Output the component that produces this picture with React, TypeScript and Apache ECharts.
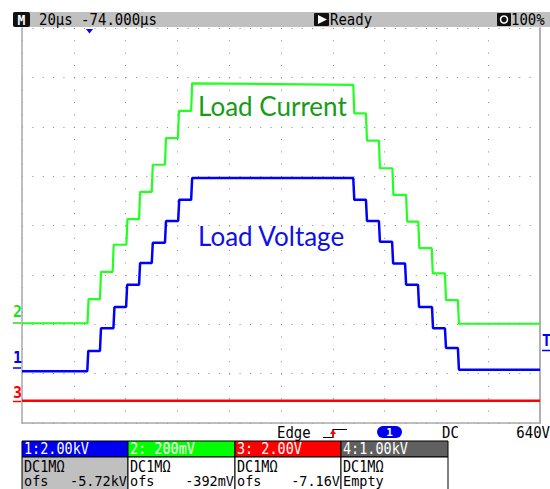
import React, { useEffect, useRef } from "react";
import * as echarts from "echarts";

// Time axis in µs (20 µs/div, 10 divisions); vertical axis in divisions (8 divisions)
const X_MIN = 0;
const X_MAX = 200;
const X_STEP = 20;
const Y_MIN = 0;
const Y_MAX = 8;
const Y_STEP = 1;
const EDGE_US = 0.4;

// Channel 2 (green) - Load Current
const currentRiseUs = [25.3, 30.1, 35.0, 40.3, 45.2, 50.1, 55.2, 60.2, 65.3];
const currentRiseLevels = [2.02, 2.51, 3.06, 3.61, 4.13, 4.68, 5.23, 5.77, 6.32, 6.88];
const currentFallUs = [127.9, 132.8, 137.8, 143.0, 148.3, 153.0, 158.2, 163.3, 168.3];
const currentFallLevels = [6.85, 6.27, 5.72, 5.16, 4.62, 4.08, 3.54, 3.03, 2.49, 2.01];

// Channel 1 (blue) - Load Voltage
const voltageRiseUs = [25.2, 30.1, 35.3, 40.2, 45.2, 50.1, 55.2, 60.3, 65.3];
const voltageRiseLevels = [1.05, 1.46, 1.92, 2.35, 2.8, 3.24, 3.65, 4.09, 4.52, 4.96];
const voltageFallUs = [127.9, 132.8, 137.8, 142.9, 147.9, 152.9, 158.3, 163.3, 168.3];
const voltageFallLevels = [4.96, 4.52, 4.09, 3.67, 3.23, 2.8, 2.35, 1.92, 1.52, 1.08];

// Channel 3 (red)
const ch3Level = 0.45;

// Bottom panel
const channelHeaders = ["1:2.00kV", "2: 200mV", "3: 2.00V", "4:1.00kV"];
const channelCoupling = ["DC1MΩ", "DC1MΩ", "DC1MΩ", "DC1MΩ"];
const channelOffsets = ["-5.72kV", "-392mV", "-7.16V", ""];
const channelColors = ["#0000f0", "#00ff00", "#ff0000", "#606060"];

function stepTrace(riseUs: number[], riseLv: number[], fallUs: number[], fallLv: number[]) {
  const pts: number[][] = [[X_MIN, riseLv[0]]];
  riseUs.forEach((t, i) => {
    pts.push([t, riseLv[i]]);
    pts.push([t + EDGE_US, riseLv[i + 1]]);
  });
  fallUs.forEach((t, i) => {
    pts.push([t, fallLv[i]]);
    pts.push([t + EDGE_US, fallLv[i + 1]]);
  });
  pts.push([X_MAX, fallLv[fallLv.length - 1]]);
  return pts;
}

const MONO = '"DejaVu Sans Mono", monospace';

function txt(text: string, x: number, y: number, fill: string, font: string, align = "left", sy = 1) {
  return {
    type: "text",
    x,
    y,
    scaleY: sy,
    z: 100,
    style: { text, fill, font, textAlign: align, verticalAlign: "middle", textVerticalAlign: "middle" },
  };
}

export default function App() {
  const ref = useRef<HTMLDivElement>(null);
  useEffect(() => {
    document.body.style.margin = "0";
    const chart = echarts.init(ref.current!, null, { renderer: "svg" });

    const GL = 22, GT = 28, GW = 518, GH = 395;
    const gridColor = "#8a8a8a";
    const SY = 1.15;

    const panelGraphics: any[] = [];
    const boxX = [22, 128, 235, 341, 448];
    for (let i = 0; i < 4; i++) {
      const x0 = boxX[i];
      const w = boxX[i + 1] - x0;
      panelGraphics.push({
        type: "rect",
        shape: { x: x0, y: 441, width: w, height: 16 },
        style: { fill: channelColors[i], stroke: "#000", lineWidth: 1 },
        z: 50,
      });
      panelGraphics.push({
        type: "rect",
        shape: { x: x0, y: 457, width: w, height: 40 },
        style: { fill: i === 0 ? "#c0c0c0" : "#ffffff", stroke: "#000", lineWidth: 1 },
        z: 50,
      });
      panelGraphics.push(txt(channelHeaders[i], x0 + 2, 449, "#ffffff", `13.5px ${MONO}`, "left", SY));
      panelGraphics.push(txt(channelCoupling[i], x0 + 2, 466.5, "#000", `13.5px ${MONO}`, "left", SY));
      if (i < 3) {
        panelGraphics.push(txt("ofs", x0 + 2, 480.5, "#000", `13.5px ${MONO}`, "left"));
        panelGraphics.push(txt(channelOffsets[i], x0 + w - 1, 480.5, "#000", `13.5px ${MONO}`, "right"));
      } else {
        panelGraphics.push(txt("Empty", x0 + 2, 480.5, "#000", `13.5px ${MONO}`, "left"));
      }
    }

    chart.setOption({
      animation: false,
      backgroundColor: "#ffffff",
      grid: { left: GL, top: GT, width: GW, height: GH, show: false },
      xAxis: {
        type: "value",
        min: X_MIN,
        max: X_MAX,
        interval: X_STEP,
        axisLine: { show: true, onZero: false, lineStyle: { color: "#a8a8a8", width: 1.5 } },
        axisTick: { show: false },
        axisLabel: { show: false },
        splitLine: { show: true, lineStyle: { color: gridColor, width: 1, type: [1, 11.34] } },
      },
      yAxis: [
        {
          type: "value",
          min: Y_MIN,
          max: Y_MAX,
          interval: Y_STEP,
          axisLine: { show: true, onZero: false, lineStyle: { color: "#a8a8a8", width: 1.5 } },
          axisTick: { show: false },
          axisLabel: { show: false },
          splitLine: { show: true, lineStyle: { color: gridColor, width: 1, type: [1, 9.36] } },
        },
        {
          type: "value",
          position: "right",
          min: Y_MIN,
          max: Y_MAX,
          interval: Y_STEP,
          axisLine: { show: true, onZero: false, lineStyle: { color: "#b0b0b0", width: 2 } },
          axisTick: { show: false },
          axisLabel: { show: false },
          splitLine: { show: false },
        },
      ],
      series: [
        {
          type: "line",
          name: "CH3",
          data: [[X_MIN, ch3Level], [X_MAX, ch3Level]],
          symbol: "none",
          lineStyle: { color: "#ff0000", width: 2.5 },
          z: 3,
        },
        {
          type: "line",
          name: "Load Voltage",
          data: stepTrace(voltageRiseUs, voltageRiseLevels, voltageFallUs, voltageFallLevels),
          symbol: "none",
          lineStyle: { color: "#0000ff", width: 2.5 },
          z: 4,
        },
        {
          type: "line",
          name: "Load Current",
          data: stepTrace(currentRiseUs, currentRiseLevels, currentFallUs, currentFallLevels),
          symbol: "none",
          lineStyle: { color: "#22ff22", width: 2.2 },
          z: 5,
        },
      ],
      graphic: [
        // header bar
        { type: "rect", shape: { x: 13, y: 12, width: 537, height: 15 }, style: { fill: "#c0c0c0" }, z: 40 },
        { type: "rect", shape: { x: 13, y: 12, width: 17, height: 15, r: 2 }, style: { fill: "#111" }, z: 41 },
        txt("M", 21.5, 20, "#ffffff", `bold 13px ${MONO}`, "center", SY),
        txt("20µs -74.000µs", 39, 20, "#000", `14px ${MONO}`, "left", SY),
        { type: "rect", shape: { x: 314, y: 13, width: 15, height: 13, r: 1 }, style: { fill: "#111" }, z: 41 },
        { type: "polygon", shape: { points: [[318, 15], [318, 24], [327, 19.5]] }, style: { fill: "#fff" }, z: 42 },
        txt("Ready", 330, 20, "#000", `14px ${MONO}`, "left", SY),
        { type: "rect", shape: { x: 497, y: 13, width: 14, height: 13, r: 1 }, style: { fill: "#111" }, z: 41 },
        { type: "circle", shape: { cx: 504, cy: 19.5, r: 3.5 }, style: { fill: "none", stroke: "#fff", lineWidth: 1.5 }, z: 42 },
        txt("100%", 511, 20, "#000", `14px ${MONO}`, "left", SY),
        // trigger position marker
        { type: "polygon", shape: { points: [[86, 29], [93, 29], [89.5, 33.5]] }, style: { fill: "#0000ff" }, z: 42 },
        // trace labels
        txt("Load Current", 198, 106, "#169c16", "26px Lato"),
        txt("Load Voltage", 198, 236, "#1010e6", "26px Lato"),
        // channel ground markers
        txt("2", 13, 312, "#22dd22", `bold 15px ${MONO}`),
        { type: "line", shape: { x1: 13, y1: 323, x2: 21, y2: 323 }, style: { stroke: "#22dd22", lineWidth: 1.5 }, z: 42 },
        txt("1", 13, 358, "#0000ff", `bold 15px ${MONO}`),
        { type: "line", shape: { x1: 13, y1: 368, x2: 21, y2: 368 }, style: { stroke: "#0000ff", lineWidth: 1.5 }, z: 42 },
        txt("3", 13, 393, "#ff0000", `bold 15px ${MONO}`),
        { type: "line", shape: { x1: 13, y1: 401.5, x2: 21, y2: 401.5 }, style: { stroke: "#ff0000", lineWidth: 1.5 }, z: 42 },
        // trigger level marker
        txt("T", 542, 341, "#0000ff", `bold 15px ${MONO}`),
        { type: "line", shape: { x1: 542, y1: 350.5, x2: 550, y2: 350.5 }, style: { stroke: "#0000ff", lineWidth: 1.5 }, z: 42 },
        // bottom status row
        txt("Edge", 277, 433, "#000", `14px ${MONO}`, "left", SY),
        { type: "polyline", shape: { points: [[323, 437.5], [333, 437.5], [333, 429.5], [347, 429.5]] }, style: { stroke: "#000", lineWidth: 1.2, fill: "none" }, z: 42 },
        { type: "line", shape: { x1: 333, y1: 437.5, x2: 333, y2: 430 }, style: { stroke: "#ff0000", lineWidth: 1.5 }, z: 43 },
        { type: "polygon", shape: { points: [[330, 434], [336, 434], [333, 429.5]] }, style: { fill: "#ff0000" }, z: 43 },
        { type: "rect", shape: { x: 377, y: 426, width: 25, height: 12, r: 6 }, style: { fill: "#0000ee" }, z: 42 },
        txt("1", 389.5, 432.5, "#ffffff", `bold 11px ${MONO}`, "center"),
        txt("DC", 442, 433, "#000", `14px ${MONO}`, "left", SY),
        txt("640V", 550, 433, "#000", `14px ${MONO}`, "right", SY),
        ...panelGraphics,
      ],
    });
    return () => chart.dispose();
  }, []);
  return <div ref={ref} style={{ position: "absolute", left: 0, top: 0, width: 550, height: 489 }} />;
}
